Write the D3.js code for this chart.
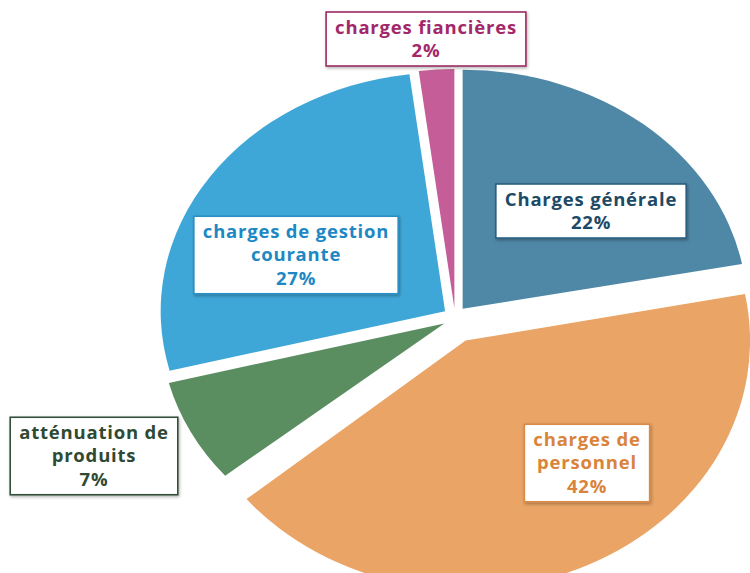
<!DOCTYPE html>
<html>
<head>
<meta charset="utf-8">
<title>Répartition des charges</title>
<script src="https://cdn.jsdelivr.net/npm/d3@7"></script>
<style>
  body { margin: 0; background: #fff; }
  svg { display: block; font-family: "Open Sans", sans-serif; }
</style>
</head>
<body>
<script>
// data
var categories = ['Charges générale', 'charges de personnel', 'atténuation de produits', 'charges de gestion courante', 'charges fiancières'];
var values = [22, 42, 7, 27, 2];
var labelLines = [
  ['Charges générale'],
  ['charges de', 'personnel'],
  ['atténuation de', 'produits'],
  ['charges de gestion', 'courante'],
  ['charges fiancières']
];

var width = 750, height = 573;
var fills = ['#4f87a6', '#e9a466', '#5a8e61', '#3fa7d7', '#c55e98'];
var inks = ['#1d4a66', '#d9843a', '#2f4a33', '#1d88c4', '#a3286a'];
var borders = ['#2c5f80', '#d98a45', '#33503a', '#2a8fc4', '#9c2a62'];
// label box centres, placed by hand like the original
var labelAt = [[591, 211], [587, 463], [94, 456], [296, 255], [426, 39]];
// how far each slice is pulled out, and a small vertical stretch (photo perspective)
var explode = [12, 25, 12, 12, 10];
var stretchY = [1, 1.04, 1, 1, 1];

var cx = 455, cy = 318, r = 239, sx = 1.19;

var svg = d3.select('body').append('svg')
  .attr('width', width)
  .attr('height', height);

var defs = svg.append('defs');
var shadow = defs.append('filter').attr('id', 'shadow')
  .attr('x', '-10%').attr('y', '-20%').attr('width', '120%').attr('height', '140%');
shadow.append('feDropShadow')
  .attr('dx', 1).attr('dy', 1.5).attr('stdDeviation', 1.5)
  .attr('flood-color', '#000').attr('flood-opacity', 0.3);

var pie = d3.pie().sort(null).value(function (d) { return d; });
var arcs = pie(values);
var arc = d3.arc().innerRadius(0).outerRadius(r);

var g = svg.append('g')
  .attr('transform', 'translate(' + cx + ',' + cy + ')');

g.selectAll('path')
  .data(arcs)
  .enter().append('path')
  .attr('d', arc)
  .attr('fill', function (d, i) { return fills[i]; })
  .attr('transform', function (d, i) {
    var a = (d.startAngle + d.endAngle) / 2;
    return 'translate(' + (Math.sin(a) * explode[i]) + ',' + (-Math.cos(a) * explode[i]) + ')' +
      ' scale(' + sx + ',' + stretchY[i] + ')';
  });

// labels
var lineH = 23.5, fs = 18.5;
arcs.forEach(function (d, i) {
  var lines = labelLines[i].concat([d3.format('.0f')(values[i]) + '%']);
  var lg = svg.append('g')
    .attr('transform', 'translate(' + labelAt[i][0] + ',' + labelAt[i][1] + ')');
  var box = lg.append('rect');
  var txt = lg.append('text')
    .attr('text-anchor', 'middle')
    .attr('fill', inks[i])
    .attr('font-weight', 700)
    .attr('font-size', fs)
    .attr('letter-spacing', 0.8);
  var y0 = -(lines.length - 1) * lineH / 2;
  lines.forEach(function (l, j) {
    txt.append('tspan')
      .attr('x', 0)
      .attr('y', y0 + j * lineH)
      .attr('dy', '0.35em')
      .text(l);
  });
  var bw = 0;
  txt.selectAll('tspan').each(function () {
    bw = Math.max(bw, this.getComputedTextLength());
  });
  bw += 18;
  var bh = lines.length * lineH + 7;
  box.attr('x', -bw / 2).attr('y', -bh / 2)
    .attr('width', bw).attr('height', bh)
    .attr('fill', '#fff')
    .attr('stroke', borders[i])
    .attr('stroke-width', 1.6)
    .attr('filter', 'url(#shadow)');
});
</script>
</body>
</html>
